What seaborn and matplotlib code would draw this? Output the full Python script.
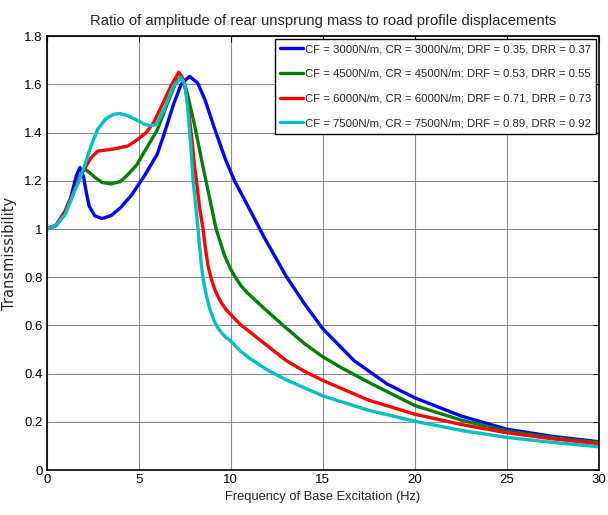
import numpy as np
import pandas as pd
import matplotlib
matplotlib.use('Agg')
import matplotlib.pyplot as plt
import seaborn as sns

# --- data ---
labels = [
    'CF = 3000N/m, CR = 3000N/m; DRF = 0.35, DRR = 0.37',
    'CF = 4500N/m, CR = 4500N/m; DRF = 0.53, DRR = 0.55',
    'CF = 6000N/m, CR = 6000N/m; DRF = 0.71, DRR = 0.73',
    'CF = 7500N/m, CR = 7500N/m; DRF = 0.89, DRR = 0.92',
]
colors = ['#0000ff', '#007f00', '#ff0000', '#00bfbf']

freq_1 = [0, 0.5, 1.0, 1.3, 1.6, 1.8, 2.0, 2.15, 2.3, 2.6, 3.0, 3.5, 4.0, 4.6, 5.3, 6.0,
          6.4, 6.9, 7.3, 7.75, 8.2, 8.6, 9.1, 9.7, 10.2, 11.1, 11.85, 13.0, 14.0, 15.0,
          16.7, 18.5, 20.0, 22.5, 25.0, 27.5, 30.0]
trans_1 = [1.0, 1.015, 1.075, 1.13, 1.22, 1.255, 1.215, 1.15, 1.095, 1.055, 1.043, 1.056,
           1.088, 1.14, 1.22, 1.31, 1.40, 1.52, 1.60, 1.633, 1.605, 1.535, 1.42, 1.29, 1.20,
           1.07, 0.96, 0.805, 0.69, 0.586, 0.454, 0.357, 0.30, 0.225, 0.17, 0.14, 0.118]

freq_2 = [0, 0.5, 1.0, 1.5, 1.8, 2.05, 2.3, 2.6, 3.0, 3.5, 4.0, 4.4, 4.9, 5.3, 6.0, 6.5,
          7.05, 7.3, 7.5, 7.67, 8.04, 8.4, 8.73, 9.2, 9.45, 9.67, 9.95, 10.2, 10.55, 10.9,
          11.4, 11.85, 13.0, 14.0, 15.0, 16.0, 17.6, 20.0, 22.5, 25.0, 27.5, 30.0]
trans_2 = [1.0, 1.015, 1.07, 1.16, 1.22, 1.25, 1.235, 1.215, 1.193, 1.187, 1.197, 1.225,
           1.267, 1.32, 1.41, 1.51, 1.615, 1.63, 1.60, 1.55, 1.427, 1.29, 1.17, 1.0, 0.94,
           0.888, 0.84, 0.805, 0.765, 0.735, 0.70, 0.668, 0.59, 0.525, 0.47, 0.425, 0.36,
           0.268, 0.208, 0.162, 0.135, 0.114]

freq_3 = [0, 0.5, 1.0, 1.5, 1.8, 2.05, 2.4, 2.77, 3.5, 4.4, 4.95, 5.4, 5.8, 6.3, 6.77,
          7.17, 7.4, 7.58, 7.76, 7.9, 8.04, 8.15, 8.3, 8.49, 8.6, 8.76, 8.95, 9.13, 9.3,
          9.49, 9.75, 10.0, 10.5, 11.0, 11.5, 12.0, 13.0, 14.0, 15.0, 17.5, 20.0, 22.5,
          25.0, 27.5, 30.0]
trans_3 = [1.0, 1.015, 1.07, 1.16, 1.215, 1.25, 1.295, 1.323, 1.33, 1.344, 1.372, 1.40,
           1.44, 1.52, 1.597, 1.65, 1.624, 1.563, 1.454, 1.36, 1.25, 1.19, 1.09, 1.0, 0.93,
           0.847, 0.79, 0.749, 0.72, 0.693, 0.665, 0.645, 0.605, 0.575, 0.545, 0.515,
           0.455, 0.41, 0.372, 0.29, 0.232, 0.19, 0.155, 0.13, 0.11]

freq_4 = [0, 0.5, 1.0, 1.5, 1.7, 2.04, 2.4, 2.77, 3.2, 3.6, 3.95, 4.4, 4.86, 5.3, 5.6,
          5.96, 6.4, 6.86, 7.3, 7.5, 7.67, 7.85, 7.95, 8.1, 8.22, 8.3, 8.4, 8.5, 8.67, 8.85,
          9.04, 9.25, 9.49, 9.75, 10.0, 10.5, 11.0, 12.0, 13.0, 15.0, 17.5, 20.0, 22.5,
          25.0, 27.5, 30.0]
trans_4 = [1.0, 1.015, 1.06, 1.155, 1.19, 1.26, 1.344, 1.414, 1.456, 1.475, 1.479, 1.47,
           1.453, 1.435, 1.428, 1.433, 1.50, 1.59, 1.628, 1.60, 1.495, 1.318, 1.2, 1.09,
           1.0, 0.93, 0.85, 0.79, 0.725, 0.67, 0.63, 0.595, 0.57, 0.55, 0.535, 0.495,
           0.465, 0.415, 0.375, 0.308, 0.248, 0.203, 0.165, 0.136, 0.115, 0.097]

x_ticks = [0, 5, 10, 15, 20, 25, 30]
y_ticks = [0, 0.2, 0.4, 0.6, 0.8, 1.0, 1.2, 1.4, 1.6, 1.8]
y_tick_labels = ['0', '0.2', '0.4', '0.6', '0.8', '1', '1.2', '1.4', '1.6', '1.8']

# --- long-form table for seaborn ---
parts = []
for f, t, lab in zip([freq_1, freq_2, freq_3, freq_4],
                     [trans_1, trans_2, trans_3, trans_4], labels):
    parts.append(pd.DataFrame({'freq': f, 'trans': t, 'case': lab}))
df = pd.concat(parts, ignore_index=True)

sns.set_style('white')
plt.rcParams['font.family'] = ['Liberation Sans', 'DejaVu Sans']

fig = plt.figure(figsize=(6.08, 5.15), dpi=100)
ax = fig.add_axes([0.077, 0.087, 0.908, 0.843])

sns.lineplot(data=df, x='freq', y='trans', hue='case', palette=dict(zip(labels, colors)),
             estimator=None, sort=False, linewidth=2.4, ax=ax)

ax.set_xlim(0, 30)
ax.set_ylim(0, 1.8)
ax.set_xticks(x_ticks)
ax.set_yticks(y_ticks)
ax.set_yticklabels(y_tick_labels)
ax.tick_params(direction='in', top=True, right=True, length=4, width=0.8,
               labelsize=9.5, pad=3, colors='black')
ax.grid(True, color='#7a7a7a', linestyle='-', linewidth=0.8, alpha=0.85)
for s in ax.spines.values():
    s.set_color('black')
    s.set_linewidth(1.2)

ax.set_title('Ratio of amplitude of rear unsprung mass to road profile displacements',
             fontsize=10.6, pad=8)
ax.set_xlabel('Frequency of Base Excitation (Hz)', fontsize=9.3, labelpad=3)
ax.set_ylabel('Transmissibility', fontsize=10.5, labelpad=5,
              family=['DejaVu Sans'])

leg = ax.legend(loc='upper right', fontsize=8.2, frameon=True, fancybox=False,
                framealpha=1, edgecolor='black', handlelength=2.0, handletextpad=0.15,
                borderpad=0.45, labelspacing=1.3, borderaxespad=0.25)
leg.get_frame().set_linewidth(1.0)

fig.savefig('out.png', dpi=100)
